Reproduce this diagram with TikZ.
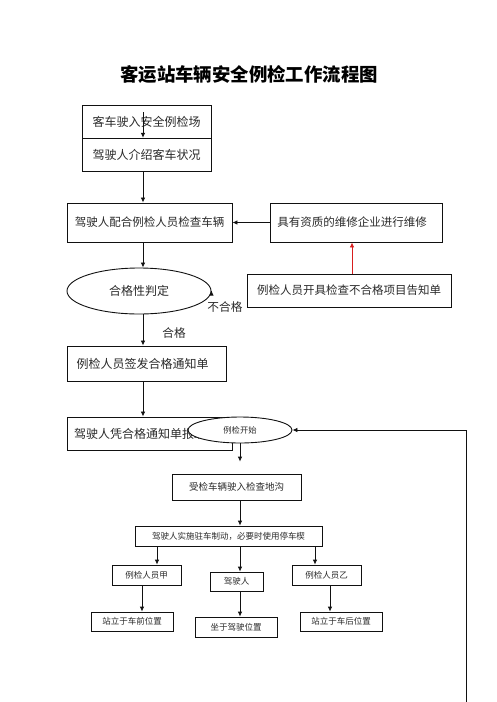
\documentclass[tikz,border=0pt]{standalone}
\usepackage{fontspec}
\setmainfont{Noto Sans CJK SC}
\usepackage{tikz}
\usetikzlibrary{arrows.meta, positioning, shapes.geometric, calc}
\definecolor{ckLine}{HTML}{111111}
\definecolor{ckText}{HTML}{2A2A2A}
\definecolor{ckRed}{HTML}{D81E1E}
\tikzset{
  ck-box/.style={
    rectangle, draw=ckLine, line width=0.9pt, fill=white,
    inner sep=0pt, align=center, text=ckText,
    font=\fontsize{12pt}{14pt}\selectfont
  },
  ck-small/.style={
    ck-box, line width=0.8pt, font=\fontsize{8.5pt}{10pt}\selectfont
  },
  ck-oval/.style={
    ellipse, draw=ckLine, line width=0.9pt, fill=white,
    inner sep=0pt, text=ckText, font=\fontsize{12pt}{14pt}\selectfont
  },
  ck-flow/.style={-{Latex[length=5pt,width=4.5pt]}, line width=0.8pt, draw=ckLine},
  ck-flow-red/.style={ck-flow, draw=ckRed, -{Latex[length=5pt,width=4.5pt,color=ckRed]}},
  ck-label/.style={text=ckText, inner sep=0pt, font=\fontsize{11.7pt}{14pt}\selectfont},
}
\begin{document}
\begin{tikzpicture}[x=1pt, y=-1pt]
  \useasboundingbox (0,0) rectangle (496,702);
  \node[font=\fontsize{18.4pt}{20pt}\selectfont\bfseries, inner sep=0pt] (title) at (249,75) {客运站车辆安全例检工作流程图};

  % upper column
  \coordinate (col) at (143,0);
  \node[ck-box, minimum width=129pt, minimum height=33pt] (b1) at (146.5,121.75) {客车驶入安全例检场};
  \node[ck-box, minimum width=129pt, minimum height=33pt] (b2) at (146.5,154.75) {驾驶人介绍客车状况};
  \node[ck-box, minimum width=165pt, minimum height=39pt, font=\fontsize{11.5pt}{14pt}\selectfont] (b3) at (149.5,222.5) {驾驶人配合例检人员检查车辆};
  \node[ck-box, minimum width=172pt, minimum height=39pt, font=\fontsize{11.5pt}{14pt}\selectfont] (rep) at (356,222.5) {具有资质的维修企业进行维修\hspace{8pt}};
  \node[ck-oval, minimum width=144pt, minimum height=46pt] (chk) at (139,291) {合格性判定};
  \node[ck-box, minimum width=204pt, minimum height=33pt, font=\fontsize{11.5pt}{14pt}\selectfont] (ntc) at (349,290.5) {例检人员开具检查不合格项目告知单};
  \node[ck-box, minimum width=159pt, minimum height=35pt] (b4) at (146.5,363.5) {例检人员签发合格通知单\hspace{8pt}};
  \node[ck-box, minimum width=165pt, minimum height=33pt, text width=151pt, align=left] (b5) at (149.5,433.5) {驾驶人凭合格通知单报班};

  \coordinate (in) at (143,112);
  \draw[ck-flow] (in) -- (b2.north -| col);
  \draw[ck-flow] (b2.south -| col) -- (b3.north -| col);
  \draw[ck-flow] (rep.west) -- (b3.east);
  \draw[ck-flow] (b3.south -| col) -- (chk.north -| col);
  \draw[ck-flow] (chk.east) -- (ntc.west -| chk.east);
  \draw[ck-flow-red] ($(ntc.north)+(3,0)$) -- ($(rep.south)+(-4,0)$);
  \draw[ck-flow] (chk.south -| col) -- (b4.north -| col);
  \draw[ck-flow] (b4.south -| col) -- (b5.north -| col);
  \node[ck-label] (fail) at (225,307) {不合格};
  \node[ck-label] (pass) at (174,333) {合格};

  % lower part
  \node[ck-oval, minimum width=104pt, minimum height=26pt, font=\fontsize{8.3pt}{10pt}\selectfont] (start) at (240,430) {例检开始};
  \node[ck-small, minimum width=129pt, minimum height=26pt, font=\fontsize{9.5pt}{11pt}\selectfont] (b6) at (236.5,487) {受检车辆驶入检查地沟};
  \node[ck-small, minimum width=187pt, minimum height=20pt] (b7) at (228.5,536) {驾驶人实施驻车制动，必要时使用停车楔};
  \node[ck-small, minimum width=69pt, minimum height=20pt] (ia) at (146.5,575) {例检人员甲};
  \node[ck-small, minimum width=53pt, minimum height=19pt] (dr) at (236.5,581.5) {驾驶人};
  \node[ck-small, minimum width=69pt, minimum height=20pt] (ib) at (326.5,575) {例检人员乙};
  \node[ck-small, minimum width=82pt, minimum height=19pt] (fa) at (132,621.5) {站立于车前位置};
  \node[ck-small, minimum width=82pt, minimum height=20pt] (fd) at (236,627) {坐于驾驶位置};
  \node[ck-small, minimum width=82pt, minimum height=19pt] (fb) at (341,621.5) {站立于车后位置};

  \draw[ck-flow, shorten >=12pt] (start.south) -- (start.south |- b6.north);
  \draw[ck-flow] ($(b6.south)+(3.5,0)$) -- ($(b7.north)+(11.5,0)$);
  \draw[ck-flow] ($(b7.south)+(-71.5,0)$) -- ($(ia.north)+(10.5,0)$);
  \draw[ck-flow] ($(b7.south)+(11.5,0)$) -- ($(dr.north)+(3.5,0)$);
  \draw[ck-flow] ($(b7.south)+(86.5,0)$) -- ($(ib.north)+(-11.5,0)$);
  \draw[ck-flow] ($(ia.south)+(-4.5,0)$) -- ($(fa.north)+(10,0)$);
  \draw[ck-flow] ($(dr.south)+(3.5,0)$) -- ($(fd.north)+(4,0)$);
  \draw[ck-flow] ($(ib.south)+(3.5,0)$) -- ($(fb.north)+(-11,0)$);

  \coordinate (lp) at (466,702);
  \draw[ck-flow] (lp) |- (start.east);
\end{tikzpicture}
\end{document}
